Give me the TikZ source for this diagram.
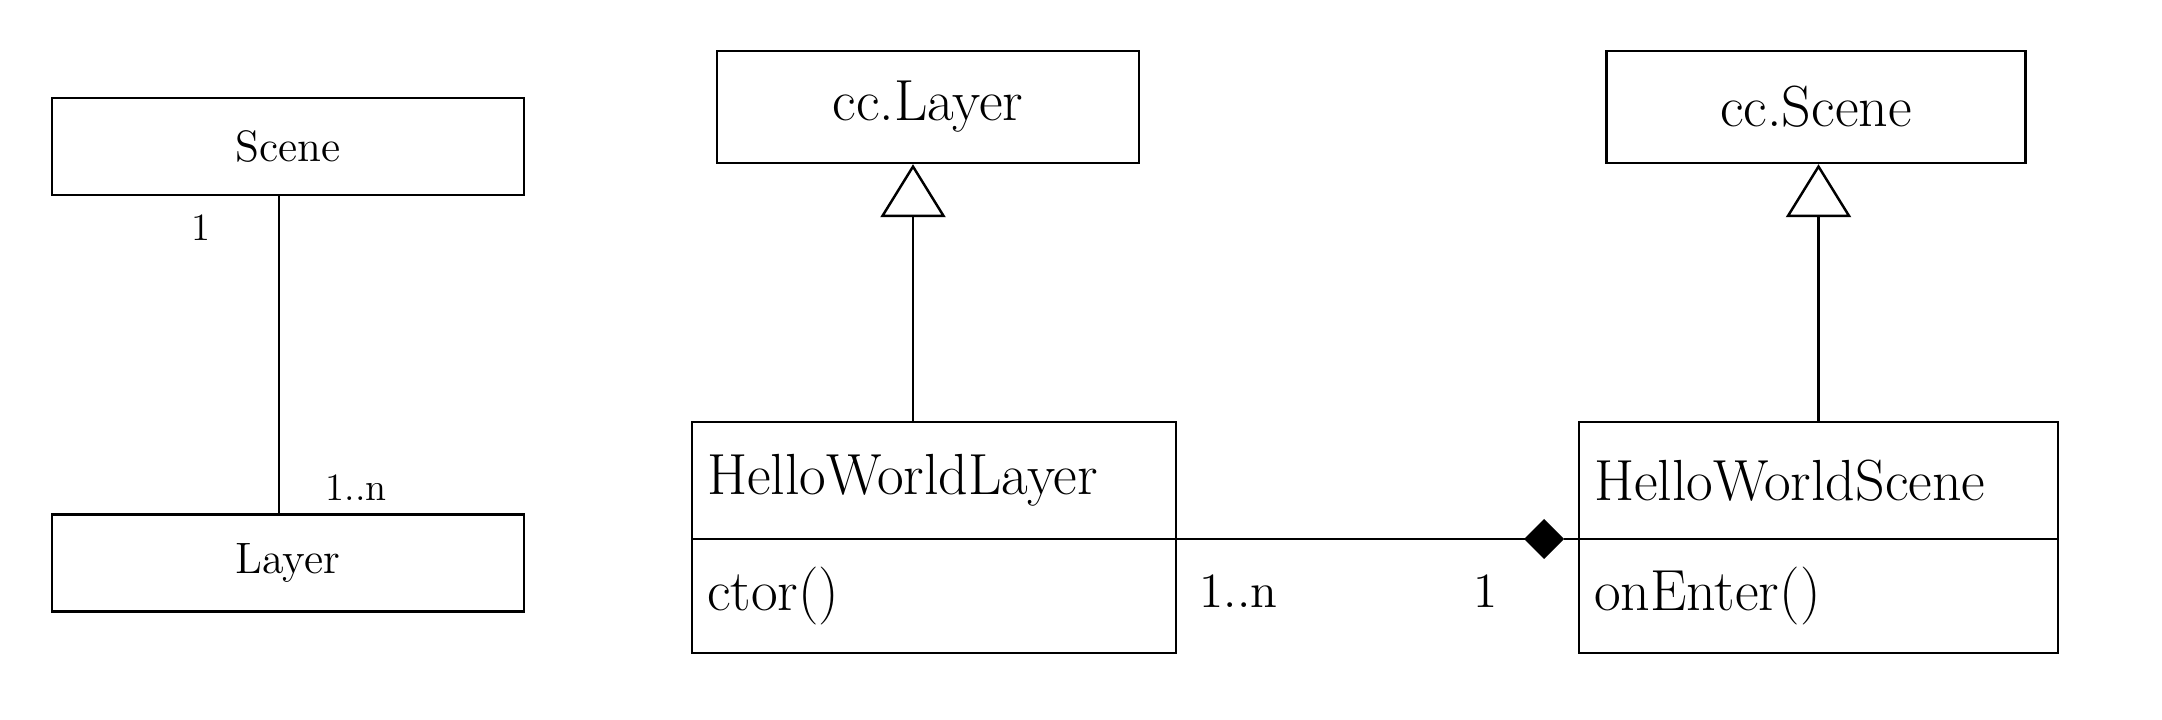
\documentclass[tikz,border=0pt]{standalone}
\usepackage{fontspec}
\usepackage{tikz}
\usetikzlibrary{arrows.meta,positioning,calc}
\tikzset{
  cls/.style={rectangle, draw, line width=0.7pt, align=center,
              font=\fontsize{12.5}{15}\selectfont, inner sep=2pt,
              minimum width=47.2mm, minimum height=9.7mm},
  ccls/.style={rectangle, draw, line width=0.7pt, align=center,
               font=\fontsize{16.5}{19}\selectfont, inner sep=2pt, minimum height=11.2mm},
  hdr/.style={rectangle, draw, line width=0.7pt, align=left,
              font=\fontsize{16.5}{19}\selectfont, inner xsep=1.5mm, inner ysep=0pt,
              outer sep=0pt, minimum height=11.7mm},
  ops/.style={hdr, minimum height=11.4mm},
  ln/.style={line width=0.7pt},
  inh/.style={-{Triangle[open, length=5.3mm, width=6.5mm]}, line width=0.7pt},
  comp/.style={-{Diamond[length=4mm, width=4mm]}, line width=0.7pt},
  mult/.style={font=\fontsize{14}{16}\selectfont, inner sep=1pt},
  smult/.style={font=\fontsize{11}{13}\selectfont, inner sep=1pt},
}

\begin{document}
\begin{tikzpicture}
\useasboundingbox (0,0) rectangle (21.62,7.2);
\node[cls] (scene) at (2.88,5.735) {Scene};
\node[cls, below=31.7mm of scene] (layer) {Layer};
\node[ccls, minimum width=42.2mm] (cclayer) at (9.28,6.13) {cc.Layer};
\node[ccls, minimum width=41.9mm] (ccscene) at (18.16,6.13) {cc.Scene};
\node[hdr, text width=45.4mm] (hwlayer) at (9.34,2.395) {HelloWorldLayer};
\node[ops, text width=45.4mm, below=0pt of hwlayer] (hwlayerops) {ctor()};
\node[hdr, text width=44.9mm, right=40.3mm of hwlayer] (hwscene) {HelloWorldScene};
\node[ops, text width=44.9mm, below=0pt of hwscene] (hwsceneops) {onEnter()};
\coordinate[left=1.5mm of hwsceneops.north west] (dia);
\draw[ln] ([xshift=-0.9mm]scene.south) --
  node[smult, pos=0.1, left=6.4mm]{1}
  node[smult, pos=0.92, right=4.2mm]{1..n} ([xshift=-0.9mm]layer.north);
\draw[inh] ([xshift=-2.1mm]hwlayer.north) -- ($(hwlayer.north |- cclayer.south)+(-2.1mm,0)$);
\draw[inh] (hwscene.north) -- (hwscene.north |- ccscene.south);
\draw[comp] (hwlayerops.north east) --
  node[mult, pos=0, below right=3.1mm and 1.9mm]{1..n}
  node[mult, pos=1, below left=3.1mm and 6.2mm]{1} (dia);
\draw[ln] (dia) -- (hwsceneops.north west);
\end{tikzpicture}
\end{document}
